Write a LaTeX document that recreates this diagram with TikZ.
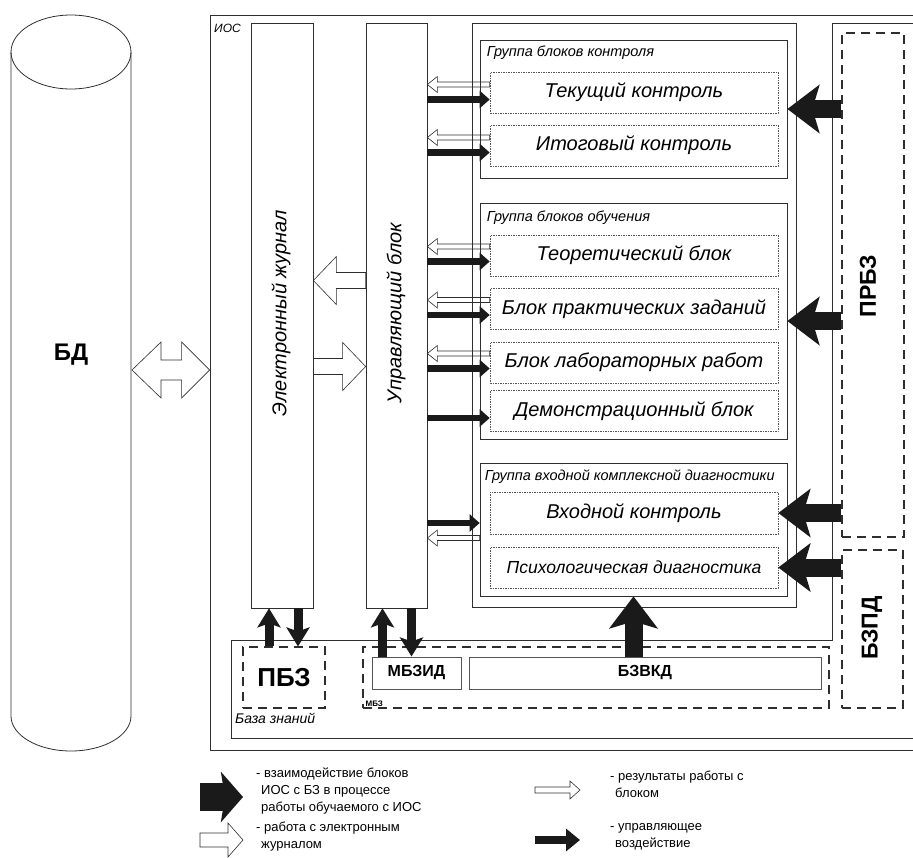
\documentclass[tikz,border=0pt]{standalone}
\usepackage{fontspec}
\setmainfont{Liberation Sans}
\usepackage{tikz}
\usetikzlibrary{arrows.meta, positioning, fit, calc}
\definecolor{cLine}{HTML}{2E2E2E}
\definecolor{cDot}{HTML}{555555}
\definecolor{cArrow}{HTML}{1A1A1A}
% outlined block arrow: from, to, shaft half-height, head half-height, head length
\newcommand{\hollowarrow}[5]{%
  \draw[hollow] let \p1=#1, \p2=#2, \n1={ifthenelse(\x2>\x1,1,-1)*#5} in
    (\x1,{\y1+#3}) -- ({\x2-\n1},{\y1+#3}) -- ({\x2-\n1},{\y1+#4}) -- (\x2,\y1)
    -- ({\x2-\n1},{\y1-#4}) -- ({\x2-\n1},{\y1-#3}) -- (\x1,{\y1-#3}) -- cycle;}
\begin{document}
\begin{tikzpicture}[x=1pt, y=-1pt,
  every node/.style={inner sep=0pt},
  box/.style={draw=cLine, line width=0.7pt, inner sep=0pt},
  blk/.style={draw=cDot, dash pattern=on 1.5pt off 1pt, line width=0.6pt, minimum width=288pt, minimum height=41pt, font=\fontsize{20}{24}\selectfont\itshape},
  kbox/.style={draw=cLine, dash pattern=on 9pt off 6pt, line width=1.1pt, inner sep=0pt},
  kbpart/.style={draw=cDot, line width=1pt, minimum height=32pt, font=\fontsize{16}{19}\selectfont\bfseries},
  glab/.style={anchor=west, font=\fontsize{14.5}{17}\selectfont\itshape},
  coltxt/.style={rotate=90, font=\fontsize{20}{24}\selectfont\itshape},
  kbtxt/.style={font=\fontsize{23}{27}\selectfont\bfseries},
  legtxt/.style={anchor=north west, align=left, font=\fontsize{13}{17}\selectfont},
  ctrl/.style={draw=cArrow, line width=6.5pt, -{Triangle[length=10pt,width=17pt]}},
  big/.style={draw=cArrow, line width=18pt, -{Stealth[length=32pt,width=48pt,inset=7pt]}},
  vert/.style={draw=cArrow, line width=9pt, -{Stealth[length=19pt,width=23pt,inset=4pt]}},
  hollow/.style={draw=cLine, line width=0.6pt}
]
\useasboundingbox (0,0) rectangle (913,857);
\clip (0,0) rectangle (913,857);

% Database cylinder
\draw[cLine, line width=0.8pt] (11,52) -- (11,716) arc[start angle=180, end angle=360, x radius=60pt, y radius=35pt] -- (131,52);
\draw[cLine, line width=0.8pt] (71,52) ellipse[x radius=60pt, y radius=37pt];
\node[font=\fontsize{24}{28}\selectfont\bfseries] (bd) at (71,355) {БД};
\coordinate (bdedge) at (132,370);

% IOS frame and knowledge base outline
\node[box, line width=0.8pt, fit={(210,15)(940,750)}] (ios) {};
\node[anchor=west, font=\fontsize{12}{14}\selectfont\itshape] (ioslab) at (214,28) {ИОС};
\draw[cLine, line width=0.7pt] (940,23) -- (832,23) -- (832,640) -- (231,640) -- (231,738) -- (940,738);
\node[anchor=west, font=\fontsize{14}{17}\selectfont\itshape] (kblab) at (235,718) {База знаний};

% Columns
\node[box, fit={(251,23)(313,608)}] (jour) {};
\node[coltxt] (jourtxt) at (281,313) {Электронный журнал};
\node[box, fit={(366,23)(427,608)}] (upr) {};
\node[coltxt] (uprtxt) at (396,313) {Управляющий блок};

% Block groups
\node[box, fit={(472,23)(796,607)}] (inner) {};
\node[box, fit={(480,40)(787,178)}] (grp1) {};
\node[glab] (g1lab) at ([xshift=7pt,yshift=-13pt]grp1.north west) {Группа блоков контроля};
\node[blk] (tek) at (634,92.5) {Текущий контроль};
\node[blk] (itog) at (634,145.5) {Итоговый контроль};

\node[box, fit={(480,203)(787,439)}] (grp2) {};
\node[glab] (g2lab) at ([xshift=7pt,yshift=-15pt]grp2.north west) {Группа блоков обучения};
\node[blk] (teor) at (634,255.5) {Теоретический блок};
\node[blk] (prakt) at (634,309) {Блок практических заданий};
\node[blk] (lab) at (634,362.5) {Блок лабораторных работ};
\node[blk] (demo) at (634,411) {Демонстрационный блок};

\node[box, fit={(480,463)(787,596)}] (grp3) {};
\node[glab] (g3lab) at ([xshift=5pt,yshift=-14pt]grp3.north west) {Группа входной комплексной диагностики};
\node[blk, minimum height=42pt] (vhod) at (634,513) {Входной контроль};
\node[blk, font=\fontsize{17.5}{21}\selectfont\itshape] (psih) at (634,567.5) {Психологическая диагностика};

% Knowledge base parts
\node[kbox, fit={(842,33)(904,537)}] (prbz) {};
\node[kbtxt, rotate=90] (prbztxt) at (868,286) {ПРБЗ};
\node[kbox, fit={(842,550)(903,708)}] (bzpd) {};
\node[kbtxt, rotate=90] (bzpdtxt) at (872,628) {БЗПД};
\node[kbox, minimum width=82pt, minimum height=61pt, font=\fontsize{26}{30}\selectfont\bfseries] (pbz) at (284,677.5) {ПБЗ};
\node[kbox, fit={(363,647)(829,708)}] (mbz) {};
\node[anchor=south west, font=\fontsize{8}{9}\selectfont\bfseries] (mbzlab) at ([xshift=3pt,yshift=2pt]mbz.south west) {МБЗ};
\node[kbpart, minimum width=89pt] (mbzid) at (416.5,673) {МБЗИД};
\node[kbpart, minimum width=352pt] (bzvkd) at (645,673) {БЗВКД};

% BD <-> IOS
\draw[hollow, fill=white] let \p1=(bdedge), \p2=(bdedge -| ios.west) in
  (\x1,\y1) -- (\x1+29pt,\y1+28pt) -- (\x1+29pt,\y1+10pt) -- (\x2-28pt,\y1+10pt) -- (\x2-28pt,\y1+28pt)
  -- (\x2,\y1) -- (\x2-28pt,\y1-28pt) -- (\x2-28pt,\y1-10pt) -- (\x1+29pt,\y1-10pt) -- (\x1+29pt,\y1-28pt) -- cycle;

% Journal <-> control block
\hollowarrow{([yshift=35pt]upr.west)}{([yshift=35pt]upr.west -| jour.east)}{8pt}{24pt}{23pt}
\hollowarrow{([yshift=-51pt]jour.east)}{([yshift=-51pt]jour.east -| upr.west)}{8pt}{24pt}{23pt}

% Results of work with blocks
\hollowarrow{([yshift=8pt]tek.west)}{([yshift=8pt]tek.west -| upr.east)}{2.5pt}{8pt}{10pt}
\hollowarrow{([yshift=8pt]itog.west)}{([yshift=8pt]itog.west -| upr.east)}{2.5pt}{8pt}{10pt}
\hollowarrow{([yshift=9pt]teor.west)}{([yshift=9pt]teor.west -| upr.east)}{2.5pt}{8pt}{10pt}
\hollowarrow{([yshift=9pt]prakt.west)}{([yshift=9pt]prakt.west -| upr.east)}{2.5pt}{8pt}{10pt}
\hollowarrow{([yshift=9pt]lab.west)}{([yshift=9pt]lab.west -| upr.east)}{2.5pt}{8pt}{10pt}
\hollowarrow{([yshift=-25pt]vhod.west -| grp3.west)}{([yshift=-25pt]vhod.west -| upr.east)}{2.5pt}{8pt}{10pt}

% Control actions
\draw[ctrl] ([yshift=-7pt]tek.west -| upr.east) -- ([yshift=-7pt]tek.west);
\draw[ctrl] ([yshift=-7pt]itog.west -| upr.east) -- ([yshift=-7pt]itog.west);
\draw[ctrl] ([yshift=-6pt]teor.west -| upr.east) -- ([yshift=-6pt]teor.west);
\draw[ctrl] ([yshift=-6pt]prakt.west -| upr.east) -- ([yshift=-6pt]prakt.west);
\draw[ctrl] ([yshift=-6pt]lab.west -| upr.east) -- ([yshift=-6pt]lab.west);
\draw[ctrl] ([yshift=-7pt]demo.west -| upr.east) -- ([yshift=-7pt]demo.west);
\draw[ctrl] ([yshift=-10pt]vhod.west -| upr.east) -- ([yshift=-10pt]vhod.west -| grp3.west);

% Interaction with the knowledge base
\draw[big] (grp1.east -| prbz.west) -- (grp1.east);
\draw[big] (grp2.east -| prbz.west) -- (grp2.east);
\draw[big] (vhod.east -| prbz.west) -- (vhod.east);
\draw[big] (psih.east -| bzpd.west) -- (psih.east);
\draw[big] (grp3.south |- bzvkd.north) -- (grp3.south);
\draw[vert] ([xshift=-13pt]jour.south |- pbz.north) -- ([xshift=-13pt]jour.south);
\draw[vert] ([xshift=16pt]jour.south) -- ([xshift=16pt]jour.south |- pbz.north);
\draw[vert] ([xshift=-14pt]upr.south |- mbzid.north) -- ([xshift=-14pt]upr.south);
\draw[vert] ([xshift=15pt]upr.south) -- ([xshift=15pt]upr.south |- mbzid.north);

% Legend
\coordinate (lg1a) at (200,797);
\coordinate (lg1b) at (243,797);
\draw[draw=cArrow, line width=28pt, -{Stealth[length=22pt,width=50pt,inset=4pt]}] (lg1a) -- (lg1b);
\node[legtxt] (lg1txt) at (256,768) {- взаимодействие блоков\\\hspace*{5pt}ИОС с БЗ в процессе\\\hspace*{5pt}работы обучаемого с ИОС};
\coordinate (lg2a) at (200,840);
\coordinate (lg2b) at (243,840);
\hollowarrow{(lg2a)}{(lg2b)}{7pt}{17pt}{15pt}
\node[legtxt] (lg2txt) at (256,822) {- работа с электронным\\\hspace*{5pt}журналом};
\coordinate (lg3a) at (535,790);
\coordinate (lg3b) at (580,790);
\hollowarrow{(lg3a)}{(lg3b)}{3pt}{9pt}{10pt}
\node[legtxt] (lg3txt) at (610,771) {- результаты работы с\\\hspace*{5pt}блоком};
\coordinate (lg4a) at (535,840);
\coordinate (lg4b) at (580,840);
\draw[draw=cArrow, line width=8pt, -{Triangle[length=14pt,width=22pt]}] (lg4a) -- (lg4b);
\node[legtxt] (lg4txt) at (610,823) {- управляющее\\\hspace*{5pt}воздействие};
\end{tikzpicture}
\end{document}
